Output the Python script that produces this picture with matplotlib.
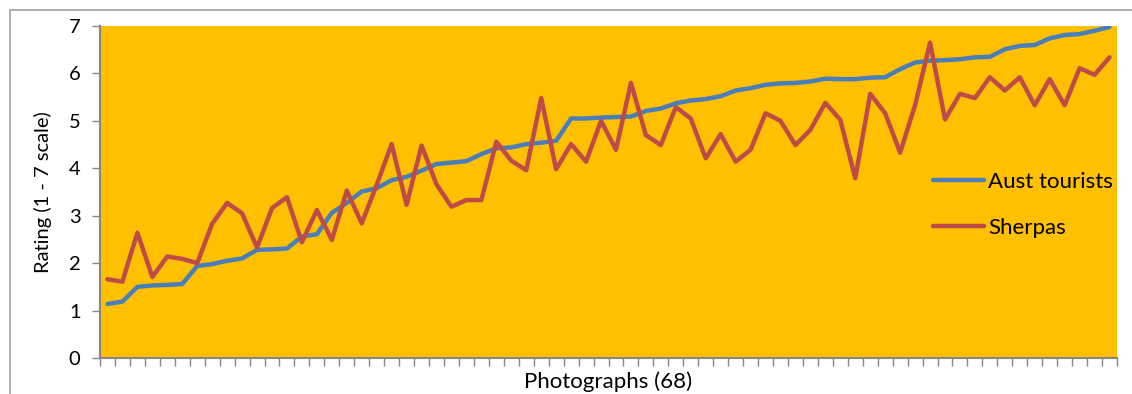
import matplotlib
matplotlib.use("Agg")
import matplotlib.pyplot as plt
from matplotlib.patches import Rectangle
import numpy as np

series_names = ["Aust tourists", "Sherpas"]
aust_tourists = [1.14, 1.19, 1.50, 1.53, 1.54, 1.56, 1.94, 1.98, 2.05, 2.10,
                 2.28, 2.29, 2.31, 2.56, 2.61, 3.06, 3.27, 3.51, 3.58, 3.75,
                 3.82, 3.95, 4.09, 4.12, 4.15, 4.30, 4.42, 4.44, 4.51, 4.54,
                 4.58, 5.05, 5.05, 5.07, 5.08, 5.09, 5.21, 5.26, 5.37, 5.43,
                 5.46, 5.52, 5.64, 5.69, 5.76, 5.79, 5.80, 5.83, 5.89, 5.88,
                 5.88, 5.91, 5.92, 6.09, 6.23, 6.27, 6.28, 6.30, 6.34, 6.35,
                 6.51, 6.58, 6.60, 6.74, 6.81, 6.83, 6.90, 6.98]
sherpas = [1.66, 1.61, 2.64, 1.71, 2.14, 2.09, 2.00, 2.83, 3.27, 3.05,
           2.33, 3.16, 3.39, 2.44, 3.12, 2.49, 3.53, 2.84, 3.65, 4.51,
           3.23, 4.48, 3.66, 3.19, 3.33, 3.33, 4.56, 4.16, 3.96, 5.48,
           3.98, 4.51, 4.14, 5.00, 4.39, 5.80, 4.70, 4.49, 5.29, 5.05,
           4.21, 4.72, 4.14, 4.39, 5.16, 5.00, 4.49, 4.81, 5.38, 5.02,
           3.79, 5.57, 5.16, 4.33, 5.33, 6.65, 5.03, 5.57, 5.48, 5.92,
           5.64, 5.92, 5.33, 5.88, 5.33, 6.11, 5.97, 6.34]
y_ticks = [0, 1, 2, 3, 4, 5, 6, 7]
x_label = "Photographs (68)"
y_label = "Rating (1 - 7 scale)"

plt.rcParams['font.family'] = ['Lato', 'DejaVu Sans']

W, H = 1132, 394
fig = plt.figure(figsize=(W / 100, H / 100), dpi=100)
fig.patch.set_facecolor('white')

# outer chart border
fig.patches.append(Rectangle((10 / W, -0.05), (W + 10) / W, 1 - 10 / H + 0.05,
                             transform=fig.transFigure, fill=False,
                             edgecolor='#A0A0A0', linewidth=1.2, zorder=0))

ax = fig.add_axes([100 / W, 1 - 358 / H, (1117 - 100) / W, (358 - 26) / H])
ax.set_facecolor('#FFC000')

n = len(aust_tourists)
x = np.arange(n)
ax.plot(x, aust_tourists, color='#4A7EBB', linewidth=3.2,
        solid_capstyle='round', solid_joinstyle='round', label=series_names[0])
ax.plot(x, sherpas, color='#BE4B48', linewidth=3.2,
        solid_capstyle='round', solid_joinstyle='round', label=series_names[1])

ax.set_xlim(-0.5, n - 0.5)
ax.set_ylim(0, 7)
ax.set_yticks(y_ticks)
ax.set_xticks(np.arange(-0.5, n, 1.0))
ax.set_xticklabels([])
ax.tick_params(axis='y', direction='out', length=6, width=1, color='#868686',
               labelsize=14.5, pad=8)
ax.tick_params(axis='x', direction='out', length=6, width=1, color='#868686')

for s in ['top', 'right']:
    ax.spines[s].set_visible(False)
for s in ['left', 'bottom']:
    ax.spines[s].set_color('#868686')
    ax.spines[s].set_linewidth(1.5)

ax.set_xlabel(x_label, fontsize=16, labelpad=0)
ax.set_ylabel(y_label, fontsize=14.5, labelpad=12)

leg = ax.legend(loc='center left', bbox_to_anchor=(0.819, 0.461), frameon=False,
                fontsize=16, handlelength=2.3, handletextpad=0.2,
                labelspacing=1.15, borderpad=0, borderaxespad=0)

fig.savefig('out.png', dpi=100, facecolor='white')
